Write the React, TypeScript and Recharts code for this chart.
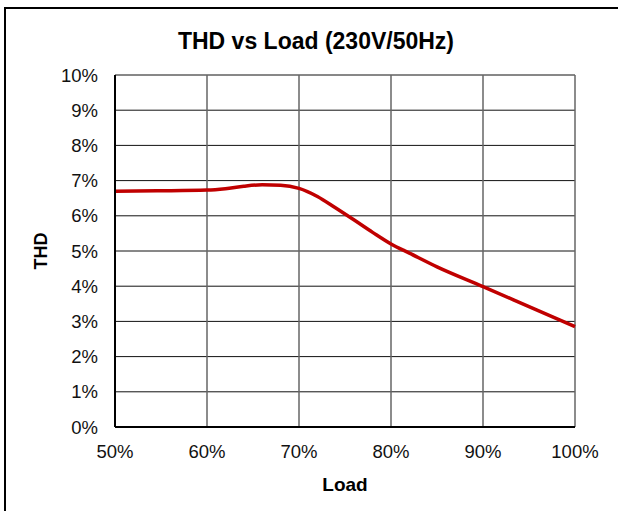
import { LineChart, Line, XAxis, YAxis, CartesianGrid, Label } from "recharts";

const loadPct = [50, 55, 60, 62, 64, 66, 68, 70, 72, 74, 76, 78, 80, 82, 85, 90, 95, 100];
const thdPct = [6.7, 6.71, 6.73, 6.77, 6.84, 6.88, 6.87, 6.78, 6.55, 6.22, 5.88, 5.53, 5.2, 4.94, 4.55, 3.99, 3.42, 2.85];
const xTicks = [50, 60, 70, 80, 90, 100];
const yTicks = [0, 1, 2, 3, 4, 5, 6, 7, 8, 9, 10];

const data = loadPct.map((load, i) => ({ load, thd: thdPct[i] }));

const font = "'Liberation Sans', Arial, sans-serif";

const YTitle = ({ viewBox }: any) => {
  const cx = 41;
  const cy = viewBox.y + viewBox.height / 2;
  return (
    <text
      x={cx}
      y={cy}
      transform={`rotate(-90 ${cx} ${cy})`}
      textAnchor="middle"
      dominantBaseline="central"
      fontFamily={font}
      fontWeight="bold"
      fontSize={18}
      fill="#000"
    >
      THD
    </text>
  );
};

export default function App() {
  return (
    <div
      style={{
        position: "absolute",
        left: 0,
        top: 0,
        width: 618,
        height: 511,
        overflow: "hidden",
        background: "#fff",
      }}
    >
      <div
        style={{
          position: "absolute",
          left: 4,
          top: 7,
          width: 700,
          height: 600,
          borderLeft: "2px solid #000",
          borderTop: "2px solid #000",
        }}
      />
      <div
        style={{
          position: "absolute",
          left: 7,
          top: 30,
          width: 618,
          textAlign: "center",
          fontFamily: font,
          fontWeight: "bold",
          fontSize: 23,
          lineHeight: "23px",
          color: "#000",
        }}
      >
        THD vs Load (230V/50Hz)
      </div>
      <div style={{ position: "absolute", left: 0, top: 0 }}>
        <LineChart
          width={618}
          height={511}
          data={data}
          margin={{ top: 75, right: 43, bottom: 0, left: 0 }}
        >
          <CartesianGrid vertical={false} stroke="#111" strokeWidth={1} />
          <CartesianGrid horizontal={false} stroke="#666" strokeWidth={1.5} />
          <XAxis
            dataKey="load"
            type="number"
            domain={[50, 100]}
            ticks={xTicks}
            tickFormatter={(v) => `${v}%`}
            height={84}
            tickLine={false}
            tickSize={0}
            tickMargin={18}
            axisLine={{ stroke: "#000", strokeWidth: 2 }}
            tick={{ fill: "#111", fontFamily: font, fontSize: 18.5 }}
          >
            <Label
              value="Load"
              position="insideBottom"
              offset={20}
              fill="#000"
              fontFamily={font}
              fontWeight="bold"
              fontSize={19}
            />
          </XAxis>
          <YAxis
            type="number"
            domain={[0, 10]}
            ticks={yTicks}
            tickFormatter={(v) => `${v}%`}
            width={115}
            tickLine={false}
            tickSize={0}
            tickMargin={17}
            axisLine={{ stroke: "#000", strokeWidth: 2 }}
            tick={{ fill: "#111", fontFamily: font, fontSize: 18.5 }}
          >
            <Label content={YTitle} />
          </YAxis>
          <Line
            type="monotone"
            dataKey="thd"
            stroke="#C00000"
            strokeWidth={3.5}
            dot={false}
            isAnimationActive={false}
          />
        </LineChart>
      </div>
    </div>
  );
}
